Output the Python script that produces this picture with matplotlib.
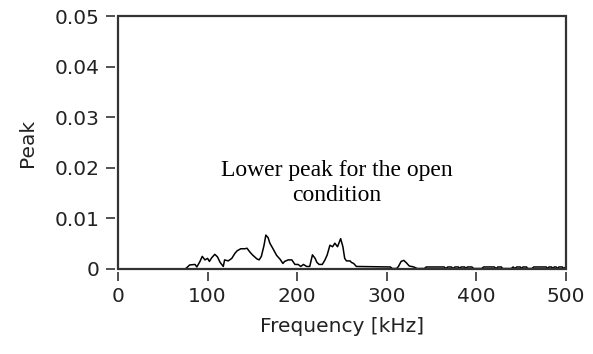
import matplotlib
matplotlib.use('Agg')
import matplotlib.pyplot as plt
from matplotlib.patches import Rectangle

# Spectrum (frequency in kHz, peak amplitude)
freq_khz = [0, 75, 77, 80, 86, 88, 91.5, 94, 97, 100, 102, 104.5, 108, 111, 114,
            117.5, 119, 123, 127, 130.5, 133, 137, 141.5, 144, 147, 150, 155, 157.5,
            160, 163, 165, 167.5, 169.5, 173, 177, 181, 184, 186, 190, 194, 197.5,
            201, 204, 207, 210.5, 214, 217, 220, 222, 224.5, 228, 231, 233.5, 236.5,
            239.5, 242, 245, 248.5, 251, 253, 255, 259, 260.5, 263, 266,
            304, 306, 311, 313, 316, 319, 322, 325, 330, 334, 342, 344, 364, 366,
            368, 372, 374, 376, 380, 381, 383, 387, 388, 390, 395, 397, 406, 408,
            420, 422, 424, 428, 429, 439, 441, 443, 445, 449, 450, 452, 456, 457,
            462, 464, 478, 479.5, 481, 484, 485, 487, 489, 490.5, 492, 496, 497, 500]
peak = [0.0, 0.0, 0.0003, 0.0008, 0.0009, 0.0004, 0.0015, 0.0025, 0.0018, 0.0021,
        0.0015, 0.0022, 0.0029, 0.0024, 0.0013, 0.0005, 0.0018, 0.0016, 0.0021,
        0.0031, 0.0036, 0.0040, 0.0040, 0.0041, 0.0034, 0.0028, 0.0020, 0.0018,
        0.0025, 0.0047, 0.0067, 0.0062, 0.0051, 0.0040, 0.0027, 0.0019, 0.0011,
        0.0015, 0.0018, 0.0018, 0.0009, 0.0009, 0.0005, 0.0009, 0.0005, 0.0005,
        0.0028, 0.0021, 0.0013, 0.0009, 0.0009, 0.0018, 0.0028, 0.0047, 0.0044,
        0.0051, 0.0044, 0.0060, 0.0044, 0.0021, 0.0016, 0.0016, 0.0013, 0.0011,
        0.0005,
        0.0004, 0.0001, 0.0001, 0.0005, 0.0015, 0.0017, 0.0012, 0.0006, 0.0004,
        0.0001, 0.0001, 0.0004, 0.0004, 0.0001, 0.0004, 0.0004, 0.0001, 0.0004,
        0.0004, 0.0001, 0.0004, 0.0004, 0.0001, 0.0004, 0.0004, 0.0001, 0.0001,
        0.0004, 0.0004, 0.0001, 0.0004, 0.0004, 0.0001, 0.0001, 0.0004, 0.0001,
        0.0004, 0.0004, 0.0001, 0.0004, 0.0004, 0.0001, 0.0001, 0.0004, 0.0004,
        0.0001, 0.0004, 0.0004, 0.0001, 0.0004, 0.0004, 0.0001, 0.0004, 0.0004,
        0.0001, 0.0004]

x_ticks = [0, 100, 200, 300, 400, 500]
y_ticks = [0, 0.01, 0.02, 0.03, 0.04, 0.05]
y_tick_labels = ['0', '0.01', '0.02', '0.03', '0.04', '0.05']

fig = plt.figure(figsize=(5.93, 3.54), dpi=100)
ax = fig.add_axes([118 / 593, 1 - 269 / 354, 448 / 593, 253 / 354])

ax.plot(freq_khz, peak, color='black', lw=1.1, clip_on=False, zorder=3)

ax.set_xlim(0, 500)
ax.set_ylim(0, 0.05)
ax.set_xticks(x_ticks)
ax.set_xticklabels([str(t) for t in x_ticks])
ax.set_yticks(y_ticks)
ax.set_yticklabels(y_tick_labels)

# LabVIEW-like frame: ticks sit a little away from the plot border
for side in ['top', 'right']:
    ax.spines[side].set_visible(False)
for side in ['left', 'bottom']:
    ax.spines[side].set_position(('outward', 2.5))
    ax.spines[side].set_visible(False)
ax.add_patch(Rectangle((0, 0), 1, 1, transform=ax.transAxes, fill=False,
                       edgecolor='#333333', lw=1.6, clip_on=False, zorder=4))

ax.tick_params(direction='out', length=6.5, width=1.2, color='#333333',
               labelsize=14.5, labelcolor='#222222', pad=4)

ax.set_xlabel('Frequency [kHz]', fontsize=14.5, color='#222222', labelpad=8)
ax.set_ylabel('Peak', fontsize=14.5, color='#222222', labelpad=13)

ax.text(244, 0.0170, 'Lower peak for the open\ncondition', ha='center', va='center',
        multialignment='center', fontsize=17, family='Liberation Serif',
        linespacing=1.2)

fig.savefig('out.png', dpi=100)
